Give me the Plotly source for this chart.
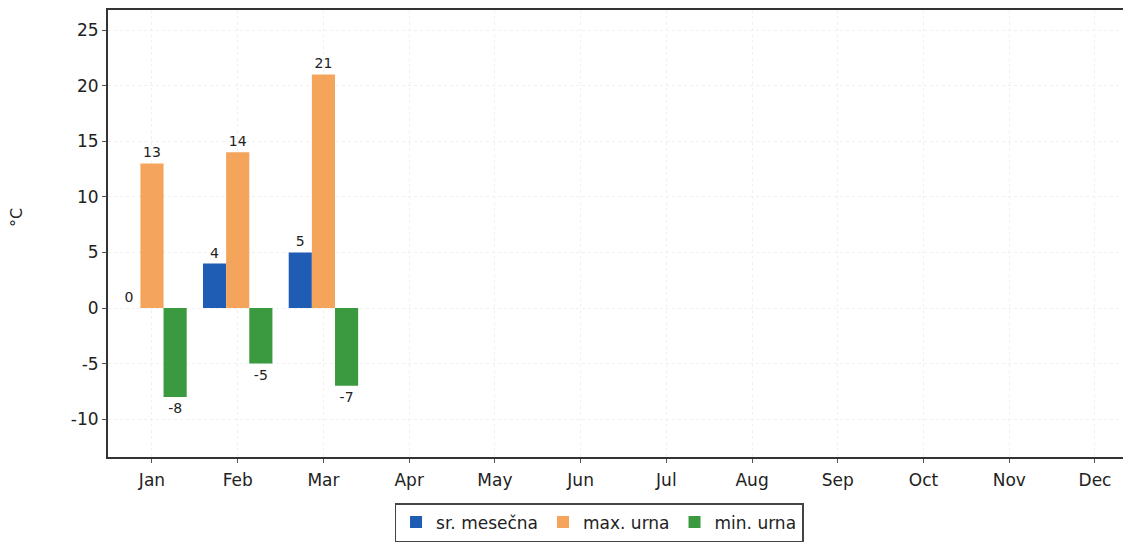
import plotly.graph_objects as go

months = ["Jan", "Feb", "Mar", "Apr", "May", "Jun", "Jul", "Aug", "Sep", "Oct", "Nov", "Dec"]
sr_mesecna = [0, 4, 5, None, None, None, None, None, None, None, None, None]
max_urna = [13, 14, 21, None, None, None, None, None, None, None, None, None]
min_urna = [-8, -5, -7, None, None, None, None, None, None, None, None, None]
y_ticks = [-10, -5, 0, 5, 10, 15, 20, 25]

series = [
    ("sr. mesečna", sr_mesecna, "#1f5cb3"),
    ("max. urna", max_urna, "#f5a55b"),
    ("min. urna", min_urna, "#3b9a3f"),
]

fig = go.Figure()
for name, vals, col in series:
    fig.add_trace(go.Bar(
        x=months, y=vals, name=name, marker=dict(color=col, line=dict(width=0)),
        text=[("" if v is None else str(v)) for v in vals],
        textposition="outside", cliponaxis=False,
        textfont=dict(family="DejaVu Sans", size=14, color="#222"),
    ))

fig.update_layout(
    width=1123, height=539,
    margin=dict(l=100, r=0, t=2, b=90),
    paper_bgcolor="white", plot_bgcolor="white",
    barmode="group", bargap=0.19, bargroupgap=0,
    font=dict(family="DejaVu Sans", size=17, color="#222"),
    legend=dict(orientation="h", x=0.48, xanchor="center", y=-0.103, yanchor="top",
                bordercolor="#444", borderwidth=1.5, font=dict(size=17),
                itemwidth=30, traceorder="normal"),
    annotations=[dict(text="°C", xref="paper", yref="paper", x=-0.089, y=0.537,
                      xanchor="center", yanchor="middle", textangle=-90,
                      showarrow=False, font=dict(size=16, color="#222"))],
)
fig.update_xaxes(
    range=[-0.513, 11.42], showline=True, linecolor="#333", linewidth=2, mirror=True,
    ticks="outside", ticklen=4, tickcolor="#555", tickfont=dict(size=17),
    ticklabelstandoff=3,
    showgrid=True, gridcolor="#f0f0f0", griddash="dot",
)
fig.update_yaxes(
    range=[-13.4, 26.8], showline=True, linecolor="#333", linewidth=2, mirror=False,
    ticks="outside", ticklen=4, tickcolor="#555", tickfont=dict(size=17),
    tickvals=y_ticks, ticktext=[str(v) for v in y_ticks],
    showgrid=True, gridcolor="#f0f0f0", griddash="dot", zeroline=False,
)

fig.write_html("out.html")
